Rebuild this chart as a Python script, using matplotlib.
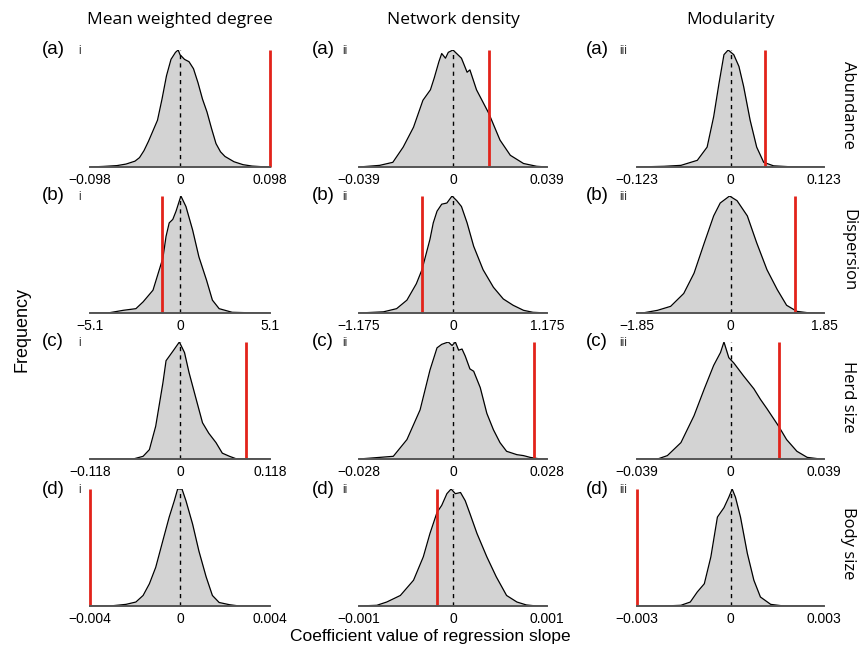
import numpy as np
import matplotlib
matplotlib.use("Agg")
import matplotlib.pyplot as plt

# column / row labels
col_titles = ["Mean weighted degree", "Network density", "Modularity"]
row_labels = ["Abundance", "Dispersion", "Herd size", "Body size"]
row_letters = ["(a)", "(b)", "(c)", "(d)"]
col_numerals = ["i", "ii", "iii"]

# axis half-range of each panel (rows a-d, cols i-iii)
limits = [[0.098, 0.039, 0.123],
          [5.1, 1.175, 1.85],
          [0.118, 0.028, 0.039],
          [0.004, 0.001, 0.003]]

# observed coefficient (red line)
observed = [[0.098, 0.015, 0.046],
            [-1.04, -0.383, 1.28],
            [0.086, 0.024, 0.0201],
            [-0.004, -0.00017, -0.003]]

# null distributions, x as fraction of the half-range, y as fraction of the peak
x_a1 = [-1, -0.85, -0.7, -0.6, -0.5, -0.45, -0.4, -0.35, -0.3, -0.25, -0.2, -0.15, -0.1, -0.05, -0.02,
        0.0, 0.05, 0.1, 0.15, 0.2, 0.25, 0.3, 0.35, 0.4, 0.45, 0.5, 0.6, 0.7, 0.8, 0.9, 1]
y_a1 = [0, 0.005, 0.012, 0.025, 0.05, 0.08, 0.14, 0.22, 0.31, 0.40, 0.58, 0.78, 0.92, 0.98, 1.0,
        0.96, 0.92, 0.90, 0.84, 0.72, 0.58, 0.47, 0.33, 0.20, 0.13, 0.09, 0.045, 0.02, 0.008, 0.003, 0]

x_a2 = [-1, -0.78, -0.64, -0.53, -0.42, -0.32, -0.24, -0.2, -0.15, -0.12, -0.08, -0.05, 0.0,
        0.09, 0.15, 0.18, 0.25, 0.38, 0.5, 0.61, 0.75, 0.89, 1]
y_a2 = [0, 0.014, 0.04, 0.17, 0.34, 0.57, 0.66, 0.76, 0.9, 0.97, 0.93, 0.98, 1.0,
        0.93, 0.81, 0.83, 0.66, 0.46, 0.23, 0.10, 0.03, 0.006, 0]

x_a3 = [-1, -0.71, -0.53, -0.355, -0.25, -0.18, -0.124, -0.07, -0.025, 0.035, 0.09, 0.14,
        0.21, 0.28, 0.355, 0.46, 0.64, 1]
y_a3 = [0, 0.006, 0.014, 0.057, 0.17, 0.43, 0.71, 0.96, 1.0, 0.96, 0.86, 0.69,
        0.40, 0.17, 0.04, 0.01, 0.002, 0]

x_b1 = [-1, -0.78, -0.63, -0.49, -0.41, -0.30, -0.23, -0.19, -0.155, -0.12, -0.08, -0.044, 0.01,
        0.066, 0.14, 0.21, 0.295, 0.36, 0.435, 0.58, 0.77, 1]
y_b1 = [0, 0.003, 0.023, 0.037, 0.095, 0.195, 0.37, 0.47, 0.655, 0.77, 0.80, 0.87, 1.0,
        0.91, 0.71, 0.48, 0.28, 0.11, 0.037, 0.006, 0.002, 0]

x_b2 = [-1, -0.74, -0.6, -0.49, -0.39, -0.33, -0.245, -0.21, -0.17, -0.12, -0.065, -0.01, 0.04,
        0.09, 0.15, 0.22, 0.32, 0.43, 0.535, 0.64, 0.75, 0.85, 1]
y_b2 = [0, 0.01, 0.037, 0.11, 0.25, 0.37, 0.63, 0.77, 0.87, 0.93, 0.94, 1.0, 0.96,
        0.91, 0.77, 0.57, 0.37, 0.22, 0.12, 0.066, 0.023, 0.006, 0]

x_b3 = [-1, -0.92, -0.78, -0.64, -0.5, -0.39, -0.28, -0.18, -0.11, -0.01, 0.07, 0.18, 0.28,
        0.39, 0.5, 0.6, 0.71, 0.82, 1]
y_b3 = [0, 0.003, 0.023, 0.057, 0.167, 0.34, 0.6, 0.83, 0.94, 1.0, 0.96, 0.83, 0.6,
        0.37, 0.2, 0.066, 0.014, 0.003, 0]

x_c1 = [-1, -0.52, -0.41, -0.34, -0.27, -0.19, -0.155, -0.08, -0.007, 0.05, 0.10, 0.18, 0.25,
        0.32, 0.40, 0.47, 0.55, 0.62, 1]
y_c1 = [0, 0, 0.023, 0.08, 0.28, 0.65, 0.84, 0.92, 1.0, 0.91, 0.74, 0.51, 0.31,
        0.22, 0.14, 0.05, 0.023, 0.003, 0]

x_c2 = [-1, -0.635, -0.49, -0.35, -0.245, -0.17, -0.12, -0.05, -0.01, 0.025, 0.06, 0.096, 0.13,
        0.18, 0.22, 0.29, 0.36, 0.43, 0.5, 0.57, 0.68, 0.75, 0.82, 0.93, 1]
y_c2 = [0, 0.023, 0.166, 0.42, 0.76, 0.95, 0.98, 1.0, 0.97, 1.0, 0.93, 0.94, 0.88,
        0.77, 0.75, 0.61, 0.39, 0.25, 0.14, 0.066, 0.037, 0.029, 0.014, 0, 0]

x_c3 = [-1, -0.78, -0.675, -0.53, -0.39, -0.28, -0.18, -0.107, -0.07, -0.018, 0.036, 0.14,
        0.25, 0.32, 0.39, 0.515, 0.6, 0.71, 0.82, 0.96, 1]
y_c3 = [0, 0, 0.029, 0.14, 0.37, 0.6, 0.8, 0.91, 1.0, 0.866, 0.82, 0.71,
        0.6, 0.51, 0.43, 0.28, 0.166, 0.066, 0.014, 0, 0]

x_d1 = [-1, -0.78, -0.6, -0.49, -0.41, -0.34, -0.27, -0.19, -0.12, -0.063, -0.026, 0.022,
        0.066, 0.14, 0.21, 0.29, 0.36, 0.435, 0.55, 0.66, 1]
y_d1 = [0, 0, 0.014, 0.034, 0.09, 0.19, 0.33, 0.56, 0.76, 0.9, 1.0, 1.0,
        0.9, 0.7, 0.47, 0.25, 0.09, 0.03, 0.011, 0, 0]

x_d2 = [-1, -0.81, -0.705, -0.56, -0.42, -0.316, -0.245, -0.17, -0.12, -0.065, -0.02, 0.025,
        0.08, 0.13, 0.18, 0.255, 0.36, 0.46, 0.57, 0.68, 0.78, 0.89, 1]
y_d2 = [0, 0.006, 0.034, 0.09, 0.22, 0.42, 0.62, 0.8, 0.86, 0.96, 1.0, 0.96,
        0.97, 0.9, 0.79, 0.62, 0.42, 0.25, 0.09, 0.034, 0.009, 0, 0]

x_d3 = [-1, -0.71, -0.53, -0.43, -0.355, -0.28, -0.21, -0.14, -0.07, -0.018, 0.018, 0.053,
        0.107, 0.18, 0.25, 0.32, 0.43, 0.57, 1]
y_d3 = [0, 0, 0.006, 0.034, 0.12, 0.19, 0.42, 0.76, 0.84, 0.93, 1.0, 0.93,
        0.76, 0.45, 0.22, 0.077, 0.014, 0, 0]

curves = [[(x_a1, y_a1), (x_a2, y_a2), (x_a3, y_a3)],
          [(x_b1, y_b1), (x_b2, y_b2), (x_b3, y_b3)],
          [(x_c1, y_c1), (x_c2, y_c2), (x_c3, y_c3)],
          [(x_d1, y_d1), (x_d2, y_d2), (x_d3, y_d3)]]

W, H = 859, 657
fig = plt.figure(figsize=(W / 100, H / 100), dpi=100)

# panel positions in pixels
col_left = [90, 359, 637]
col_width = [180, 188, 187]
row_base = [167, 313, 459, 606]
panel_h = 117
letter_x = [42, 312, 586]
numeral_dx = [36, 30, 33]

tick_font = "Liberation Sans"
title_font = "Open Sans"

for r in range(4):
    ytext = 1 - (row_base[r] - panel_h) / H
    for c in range(3):
        lim = limits[r][c]
        xs, ys = curves[r][c]
        x = np.array(xs) * lim
        y = np.array(ys)
        ax = fig.add_axes([col_left[c] / W, 1 - row_base[r] / H,
                           col_width[c] / W, panel_h / H])
        ax.fill_between(x, 0, y, color="#d3d3d3", lw=0)
        ax.plot(x, y, color="black", lw=0.9)
        ax.plot([0, 0], [0, 1], color="black", lw=1, linestyle=(0, (3, 3)))
        ax.plot([observed[r][c]] * 2, [0, 1], color="#e2231a", lw=2, clip_on=False,
                solid_capstyle="butt")
        ax.set_xlim(-lim, lim)
        ax.set_ylim(0, 1)
        for s in ["top", "left", "right"]:
            ax.spines[s].set_visible(False)
        ax.spines["bottom"].set_color("#555555")
        ax.spines["bottom"].set_linewidth(1.4)
        ax.set_yticks([])
        ax.set_xticks([-lim, 0, lim], ["\u2212" + str(lim), "0", str(lim)])
        ax.tick_params(axis="x", length=0, pad=4, labelsize=10)
        for lab in ax.get_xticklabels():
            lab.set_fontfamily(tick_font)
        ax.patch.set_visible(False)

        # panel label and roman numeral
        fig.text(letter_x[c] / W, ytext, row_letters[r],
                 fontsize=13.5, family=tick_font, va="center", ha="left")
        fig.text((letter_x[c] + numeral_dx[c]) / W, ytext - 1 / H, col_numerals[c],
                 fontsize=8.5, family=tick_font, color="#333333", va="center", ha="left")

    # right-hand row label
    fig.text(848 / W, 1 - (row_base[r] - panel_h / 2 - 4) / H, row_labels[r],
             rotation=-90, fontsize=12, family=title_font, va="center", ha="center")

for c in range(3):
    fig.text((col_left[c] + col_width[c] / 2) / W, 1 - 20 / H, col_titles[c],
             fontsize=12.5, family=title_font, va="center", ha="center")

fig.text(22 / W, 1 - 330 / H, "Frequency", rotation=90, fontsize=13,
         family=tick_font, va="center", ha="center")
fig.text(430 / W, 1 - 637 / H, "Coefficient value of regression slope", fontsize=12.5,
         family=tick_font, va="center", ha="center")

fig.savefig("out.png", dpi=100)
